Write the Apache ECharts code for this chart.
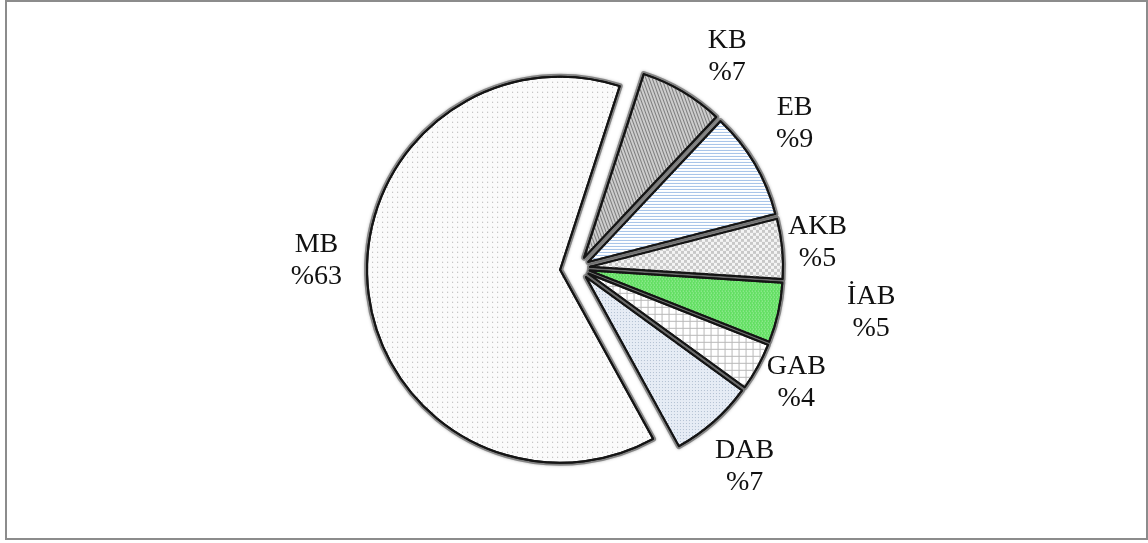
<!DOCTYPE html>
<html>
<head>
<meta charset="utf-8">
<title>Dağılım</title>
<script src="https://cdn.jsdelivr.net/npm/echarts@6/dist/echarts.min.js"></script>
<style>
  html, body { margin: 0; padding: 0; background: #ffffff; }
  #chart { width: 1148px; height: 543px; }
</style>
</head>
<body>
<div id="chart"></div>
<script>
// Slice names and their percentage shares, clockwise from the first slice.
const categories = ['KB', 'EB', 'AKB', 'İAB', 'GAB', 'DAB', 'MB'];
const shares = [7, 9, 5, 5, 4, 7, 63];
// The large slice is pulled further out than the others.
const majorName = 'MB';

// Fill colour and texture of each slice.
const sliceStyles = {
  KB:  { color: '#cdcdcd', decal: { symbol: 'rect', symbolSize: 1, dashArrayX: [1, 2], dashArrayY: [6, 0], rotation: -0.35, color: '#7c7c7c' } },
  EB:  { color: '#ffffff', decal: { symbol: 'rect', symbolSize: 1, dashArrayX: [6, 0], dashArrayY: [1, 2], rotation: 0, color: '#a4c2e8' } },
  AKB: { color: '#f4f4f4', decal: { symbol: 'rect', symbolSize: 1, dashArrayX: [[3, 3], [0, 3, 3, 0]], dashArrayY: [3, 0], rotation: 0, color: '#c8c8c8' } },
  'İAB': { color: '#62df62', decal: { symbol: 'rect', symbolSize: 1, dashArrayX: [[1, 2], [0, 2, 1, 0]], dashArrayY: [1, 1], rotation: 0, color: '#b8f2b8' } },
  GAB: { color: '#ffffff', decal: { symbol: 'rect', symbolSize: 1, dashArrayX: [[7, 0], [1, 6]], dashArrayY: [1, 0, 6, 0], rotation: 0, color: '#b9b9b9' } },
  DAB: { color: '#e6ecf5', decal: { symbol: 'rect', symbolSize: 1, dashArrayX: [1, 2], dashArrayY: [1, 2], rotation: 0, color: '#b0bdd0' } },
  MB:  { color: '#fbfbfb', decal: { symbol: 'rect', symbolSize: 1, dashArrayX: [1, 4], dashArrayY: [1, 4], rotation: 0, color: '#aaaaaa' } }
};

// Small nudges that set each label beside its slice.
const labelShift = {
  KB: [0, 0], EB: [-18, -20], AKB: [-39, -2], 'İAB': [25, -9],
  GAB: [-31, -3], DAB: [-30, 15], MB: [19, -31]
};

const labelFont = 'Liberation Serif, Times New Roman, serif';
const hiddenItem = {
  itemStyle: { color: 'rgba(0,0,0,0)', borderWidth: 0, shadowBlur: 0, shadowColor: 'rgba(0,0,0,0)' },
  label: { show: false }
};

// forMajor: which group of slices this series draws; halo: soft grey rim drawn under the slices.
function buildData(forMajor, halo) {
  return categories.map(function (name, i) {
    const visible = (name === majorName) === forMajor;
    const item = { name: name, value: shares[i] };
    if (!visible) {
      item.itemStyle = hiddenItem.itemStyle;
      item.label = hiddenItem.label;
      return item;
    }
    item.selected = true;
    if (halo) {
      item.itemStyle = { color: '#ffffff' };
      item.label = { show: false };
    } else {
      item.itemStyle = { color: sliceStyles[name].color, decal: sliceStyles[name].decal };
    }
    return item;
  });
}

function pieSeries(forMajor, offset, halo) {
  return {
    type: 'pie',
    center: [578, 268],
    radius: 193,
    startAngle: 72,
    clockwise: true,
    selectedMode: 'multiple',
    selectedOffset: offset,
    avoidLabelOverlap: false,
    silent: true,
    emphasis: { disabled: true },
    itemStyle: halo ? {
      borderColor: 'rgba(110,110,110,0.75)',
      borderWidth: 6,
      shadowBlur: 3,
      shadowColor: 'rgba(0,0,0,0.35)'
    } : {
      borderColor: '#141414',
      borderWidth: 2
    },
    label: {
      show: !halo,
      position: 'outside',
      distanceToLabelLine: 5,
      formatter: function (p) { return '{t|' + p.name + '}\n{t|%' + p.value + '}'; },
      rich: {
        t: { fontFamily: labelFont, fontSize: 28, lineHeight: 32, color: '#111111', align: 'center' }
      }
    },
    labelLine: { show: false, length: 40, length2: 0 },
    labelLayout: function (params) {
      const s = labelShift[categories[params.dataIndex]];
      return s ? { dx: s[0], dy: s[1] } : {};
    },
    data: buildData(forMajor, halo)
  };
}

const chart = echarts.init(document.getElementById('chart'));
chart.setOption({
  animation: false,
  backgroundColor: '#ffffff',
  graphic: [{
    type: 'rect',
    shape: { x: 6, y: 1, width: 1141, height: 538 },
    style: { fill: 'none', stroke: '#8c8c8c', lineWidth: 2 },
    silent: true
  }],
  series: [
    pieSeries(true, 18, true),
    pieSeries(false, 12, true),
    pieSeries(true, 18, false),
    pieSeries(false, 12, false)
  ]
});
</script>
</body>
</html>
